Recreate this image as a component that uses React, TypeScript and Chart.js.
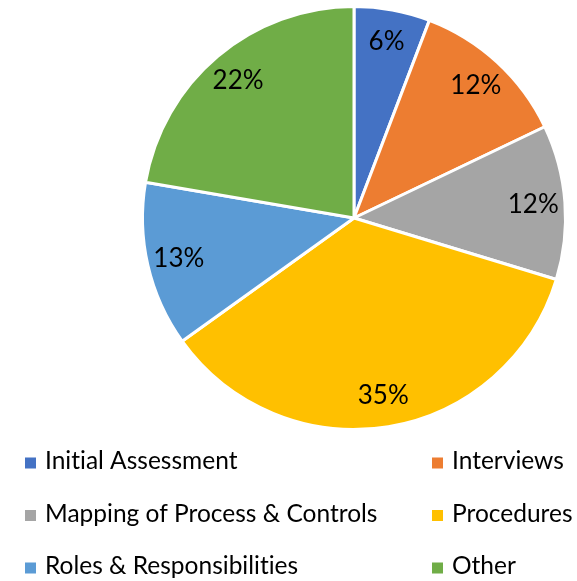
import React, { useEffect, useRef } from "react";
import { Chart, registerables } from "chart.js";

Chart.register(...registerables);

const categories = [
  "Initial Assessment",
  "Interviews",
  "Mapping of Process & Controls",
  "Procedures",
  "Roles & Responsibilities",
  "Other",
];
const shares = [5.8, 12.1, 11.8, 35.4, 12.6, 22.3];
const colors = ["#4472C4", "#ED7D31", "#A5A5A5", "#FFC000", "#5B9BD5", "#70AD47"];

const FONT_FAMILY = "Lato, 'Noto Sans', sans-serif";
const LABEL_FONT_SIZE = 26;
const LEGEND_FONT_SIZE = 24.5;
const TEXT_COLOR = "#000000";

const pctLabelPlugin = {
  id: "pctLabels",
  afterDatasetsDraw(chart: any) {
    const ctx = chart.ctx;
    const meta = chart.getDatasetMeta(0);
    const data = chart.data.datasets[0].data as number[];
    const total = data.reduce((a, b) => a + b, 0);
    ctx.save();
    ctx.font = `${LABEL_FONT_SIZE}px ${FONT_FAMILY}`;
    ctx.fillStyle = TEXT_COLOR;
    ctx.textAlign = "center";
    ctx.textBaseline = "middle";
    meta.data.forEach((arc: any, i: number) => {
      const { x, y, startAngle, endAngle, outerRadius } = arc.getProps(
        ["x", "y", "startAngle", "endAngle", "outerRadius"],
        true
      );
      const mid = (startAngle + endAngle) / 2;
      const r = outerRadius * 0.85;
      const text = Math.round((data[i] / total) * 100) + "%";
      ctx.fillText(text, x + Math.cos(mid) * r, y + Math.sin(mid) * r);
    });
    ctx.restore();
  },
};

const gridLegendPlugin = {
  id: "gridLegend",
  afterDraw(chart: any) {
    const ctx = chart.ctx;
    const labels = chart.data.labels as string[];
    const bg = chart.data.datasets[0].backgroundColor as string[];
    const colX = [25, 432];
    const firstRowY = 461.5;
    const rowGap = 52.5;
    const box = 11;
    ctx.save();
    ctx.font = `${LEGEND_FONT_SIZE}px ${FONT_FAMILY}`;
    try {
      (ctx as any).textRendering = "optimizeSpeed";
    } catch (e) {}
    ctx.textBaseline = "middle";
    ctx.textAlign = "left";
    labels.forEach((label, i) => {
      const col = i % 2;
      const row = Math.floor(i / 2);
      const x = colX[col];
      const y = firstRowY + row * rowGap;
      ctx.fillStyle = bg[i];
      ctx.fillRect(x, y - box / 2 + 1.5, box, box);
      ctx.fillStyle = TEXT_COLOR;
      ctx.fillText(label, x + 20, y);
    });
    ctx.restore();
  },
};

export default function App() {
  const canvasRef = useRef<HTMLCanvasElement | null>(null);

  useEffect(() => {
    document.body.style.margin = "0";
    const canvas = canvasRef.current;
    if (!canvas) return;
    const chart = new Chart(canvas, {
      type: "pie",
      data: {
        labels: categories,
        datasets: [
          {
            data: shares,
            backgroundColor: colors,
            borderColor: "#ffffff",
            borderWidth: 3,
          },
        ],
      },
      options: {
        responsive: false,
        animation: false,
        devicePixelRatio: 1,
        layout: { padding: { left: 141, right: 10, top: 5, bottom: 150 } },
        plugins: {
          legend: { display: false },
          tooltip: { enabled: false },
        },
      },
      plugins: [pctLabelPlugin, gridLegendPlugin],
    });
    return () => chart.destroy();
  }, []);

  return (
    <div style={{ width: 577, height: 581, background: "#ffffff" }}>
      <canvas ref={canvasRef} width={577} height={581} style={{ display: "block" }} />
    </div>
  );
}
